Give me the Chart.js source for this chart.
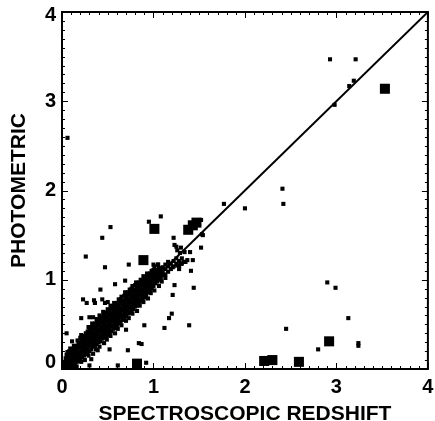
<!DOCTYPE html>
<html>
<head>
<meta charset="utf-8">
<script src="https://cdn.jsdelivr.net/npm/chart.js@4.4.0/dist/chart.umd.min.js"></script>
<style>
  body { margin: 0; background: #fff; }
  canvas { display: block; }
</style>
</head>
<body>
<canvas id="myChart" width="435" height="421"></canvas>
<script>
var tickLabels = ['0', '1', '2', '3', '4'];
var xTitle = 'SPECTROSCOPIC REDSHIFT';
var yTitle = 'PHOTOMETRIC';

// dense core along the relation: spec-z of each column, phot-z values in that column
var coreX = [0.02, 0.04, 0.06, 0.08, 0.10, 0.12, 0.14, 0.16, 0.18, 0.20,
             0.22, 0.24, 0.26, 0.28, 0.30, 0.32, 0.34, 0.36, 0.38, 0.40,
             0.42, 0.44, 0.46, 0.48, 0.50, 0.52, 0.54, 0.56, 0.58, 0.60,
             0.62, 0.64, 0.66, 0.68, 0.70, 0.72, 0.74, 0.76, 0.78, 0.80,
             0.82, 0.84, 0.86, 0.88, 0.90, 0.92, 0.94, 0.96, 0.98, 1.00,
             1.02, 1.04, 1.06, 1.08, 1.10, 1.13, 1.16, 1.19, 1.22, 1.25,
             1.28, 1.31, 1.35];
var coreY = [
  [0.00, 0.03, 0.07], [0.01, 0.05, 0.08, 0.12], [0.02, 0.06, 0.09, 0.14],
  [0.03, 0.06, 0.11, 0.16, 0.20], [0.02, 0.07, 0.10, 0.15, 0.18], [0.05, 0.09, 0.12, 0.17, 0.22],
  [0.04, 0.10, 0.15, 0.19, 0.23], [0.08, 0.12, 0.17, 0.21, 0.26], [0.09, 0.14, 0.18, 0.24, 0.28],
  [0.12, 0.16, 0.21, 0.25, 0.30, 0.35], [0.13, 0.19, 0.23, 0.27, 0.32], [0.15, 0.20, 0.24, 0.29, 0.34, 0.37],
  [0.17, 0.22, 0.27, 0.31, 0.36], [0.19, 0.23, 0.28, 0.33, 0.38, 0.42], [0.20, 0.26, 0.30, 0.35, 0.40, 0.44],
  [0.22, 0.27, 0.32, 0.37, 0.41, 0.47], [0.25, 0.29, 0.34, 0.39, 0.44, 0.49], [0.26, 0.31, 0.36, 0.40, 0.45, 0.51],
  [0.28, 0.33, 0.38, 0.43, 0.48, 0.53], [0.30, 0.34, 0.39, 0.44, 0.50, 0.55], [0.31, 0.36, 0.42, 0.47, 0.52, 0.57],
  [0.34, 0.38, 0.43, 0.48, 0.53, 0.59], [0.35, 0.41, 0.46, 0.50, 0.56, 0.61], [0.37, 0.42, 0.47, 0.53, 0.58, 0.63],
  [0.38, 0.44, 0.49, 0.54, 0.59, 0.64], [0.41, 0.45, 0.50, 0.56, 0.61, 0.66], [0.42, 0.48, 0.53, 0.58, 0.62, 0.68],
  [0.45, 0.49, 0.55, 0.60, 0.65, 0.70], [0.46, 0.52, 0.57, 0.61, 0.66, 0.72], [0.49, 0.53, 0.58, 0.64, 0.69, 0.74],
  [0.51, 0.56, 0.61, 0.66, 0.71], [0.53, 0.59, 0.63, 0.68, 0.74, 0.78], [0.55, 0.60, 0.66, 0.71, 0.76],
  [0.58, 0.62, 0.67, 0.72, 0.77, 0.82], [0.59, 0.65, 0.70, 0.74, 0.79], [0.62, 0.66, 0.71, 0.77, 0.82, 0.86],
  [0.63, 0.69, 0.74, 0.78, 0.84], [0.66, 0.70, 0.75, 0.81, 0.86, 0.90], [0.67, 0.73, 0.78, 0.82, 0.88],
  [0.70, 0.74, 0.80, 0.85, 0.89, 0.94], [0.71, 0.77, 0.81, 0.86, 0.92], [0.74, 0.78, 0.84, 0.88, 0.93, 0.97],
  [0.76, 0.82, 0.86, 0.91, 0.96], [0.79, 0.83, 0.88, 0.94, 0.98], [0.80, 0.86, 0.91, 0.95, 1.00],
  [0.83, 0.87, 0.93, 0.97, 1.03], [0.86, 0.90, 0.94, 1.00, 1.04], [0.88, 0.93, 0.97, 1.01, 1.07],
  [0.90, 0.95, 1.00, 1.04, 1.08], [0.93, 0.98, 1.02, 1.06, 1.11], [0.96, 1.00, 1.04, 1.09],
  [0.98, 1.03, 1.07, 1.11], [1.00, 1.04, 1.09, 1.13], [1.02, 1.07, 1.12],
  [1.05, 1.09, 1.14], [1.06, 1.12, 1.17], [1.09, 1.15, 1.20],
  [1.12, 1.18], [1.15, 1.21], [1.18, 1.24],
  [1.16, 1.21], [1.18, 1.24], [1.20]
];

// ragged edges of the core
var edgeSpecZ = [0.12, 0.16, 0.21, 0.25, 0.29, 0.34, 0.37, 0.41, 0.46, 0.49,
                 0.53, 0.58, 0.61, 0.65, 0.70, 0.73, 0.77, 0.82, 0.85, 0.89,
                 0.94, 0.97, 1.01, 1.06, 1.09, 1.13,
                 0.05, 0.09, 0.13, 0.17, 0.21, 0.26, 0.29, 0.33, 0.38, 0.41,
                 0.45, 0.50, 0.53, 0.57, 0.62, 0.65, 0.69, 0.74, 0.77, 0.81,
                 0.86, 0.89, 0.93, 0.98, 1.01, 1.05];
var edgePhotZ = [0.00, 0.03, 0.08, 0.10, 0.15, 0.17, 0.22, 0.25, 0.29, 0.33,
                 0.37, 0.40, 0.45, 0.49, 0.54, 0.57, 0.62, 0.65, 0.71, 0.75,
                 0.79, 0.85, 0.88, 0.93, 0.98, 1.02,
                 0.16, 0.23, 0.26, 0.32, 0.38, 0.40, 0.47, 0.51, 0.56, 0.60,
                 0.64, 0.67, 0.71, 0.74, 0.78, 0.81, 0.86, 0.89, 0.93, 0.97,
                 1.00, 1.04, 1.07, 1.10, 1.15, 1.17];

// scattered galaxies (small symbols)
var specZ = [0.06, 2.93, 3.21, 3.14, 3.19, 2.98, 2.41, 2.42, 1.77, 2.00,
             1.52, 1.53, 1.52, 2.90, 2.99, 3.13, 2.45, 2.80, 3.24, 3.24,
             1.08, 0.95, 0.53, 0.44, 1.22, 1.54, 1.23, 1.25, 1.29, 1.34,
             1.40, 1.43, 1.41, 1.44, 0.26, 0.47, 1.00, 1.05, 0.73, 1.12,
             0.69, 0.58, 0.42, 1.23, 1.21, 0.23, 0.27, 0.35, 0.44, 0.47,
             0.50, 0.36, 1.20, 1.17, 1.12, 1.39, 0.90, 0.70, 0.21, 0.30,
             0.34, 0.05, 0.11, 0.39, 0.52, 0.72, 0.84, 0.87, 0.92, 0.30,
             0.61, 0.32, 0.06, 1.21, 1.26, 1.30, 1.33, 1.37, 1.28, 1.26,
             1.30];
var photZ = [2.59, 3.47, 3.47, 3.17, 3.23, 2.96, 2.02, 1.85, 1.85, 1.80,
             1.67, 1.51, 1.36, 0.97, 0.91, 0.57, 0.45, 0.22, 0.29, 0.26,
             1.71, 1.65, 1.59, 1.47, 1.47, 1.50, 1.39, 1.37, 1.30, 1.31,
             1.31, 1.22, 1.10, 0.91, 1.26, 1.14, 1.17, 1.17, 1.17, 1.12,
             0.99, 0.95, 0.89, 0.94, 0.83, 0.78, 0.74, 0.77, 0.78, 0.74,
             0.75, 0.74, 0.62, 0.57, 0.46, 0.49, 0.49, 0.44, 0.57, 0.58,
             0.58, 0.40, 0.31, 0.21, 0.22, 0.21, 0.29, 0.28, 0.07, 0.04,
             0.04, 0.11, 0.19, 1.14, 1.16, 1.18, 1.20, 1.22, 1.12, 1.33,
             1.36];

// big symbols
var bigSpecZ = [3.53, 2.92, 2.21, 2.30, 2.59, 0.82, 1.01, 1.38, 1.43, 1.47, 0.89];
var bigPhotZ = [3.14, 0.31, 0.09, 0.10, 0.08, 0.06, 1.57, 1.56, 1.61, 1.64, 1.22];

function toPoints(xs, ys) {
  var out = [];
  for (var i = 0; i < xs.length; i++) out.push({ x: xs[i], y: ys[i] });
  return out;
}

var corePoints = toPoints(edgeSpecZ, edgePhotZ);
for (var c = 0; c < coreX.length; c++) {
  for (var k = 0; k < coreY[c].length; k++) corePoints.push({ x: coreX[c], y: coreY[c][k] });
}

var FONT = '"Liberation Sans", Arial, Helvetica, sans-serif';

// IDL-style box: frame, inward ticks on all four sides, labels and titles
var idlFrame = {
  id: 'idlFrame',
  afterDatasetsDraw: function (chart) {
    var ctx = chart.ctx, a = chart.chartArea;
    var xs = chart.scales.x, ys = chart.scales.y;
    ctx.save();
    ctx.strokeStyle = '#000';
    ctx.fillStyle = '#000';
    ctx.lineWidth = 2;
    ctx.strokeRect(a.left, a.top, a.right - a.left, a.bottom - a.top);

    ctx.lineWidth = 1;
    ctx.beginPath();
    for (var i = 0; i <= 40; i++) {
      var v = i / 10;
      var len = i % 10 === 0 ? 6 : 3;
      var px = Math.round(xs.getPixelForValue(v)) + 0.5;
      var py = Math.round(ys.getPixelForValue(v)) + 0.5;
      ctx.moveTo(px, a.bottom); ctx.lineTo(px, a.bottom - len);
      ctx.moveTo(px, a.top); ctx.lineTo(px, a.top + len);
      ctx.moveTo(a.left, py); ctx.lineTo(a.left + len, py);
      ctx.moveTo(a.right, py); ctx.lineTo(a.right - len, py);
    }
    ctx.stroke();

    ctx.font = 'bold 20px ' + FONT;
    ctx.textBaseline = 'middle';
    ctx.textAlign = 'center';
    tickLabels.forEach(function (t, i) {
      ctx.fillText(t, xs.getPixelForValue(i), a.bottom + 18);
    });
    ctx.textAlign = 'right';
    tickLabels.forEach(function (t, i) {
      var y = Math.min(Math.max(ys.getPixelForValue(i), a.top + 3.5), a.bottom - 6.5);
      ctx.fillText(t, a.left - 6, y);
    });

    ctx.font = 'bold 21px ' + FONT;
    ctx.textAlign = 'center';
    ctx.textBaseline = 'alphabetic';
    ctx.fillText(xTitle, (a.left + a.right) / 2, 420);
    ctx.translate(25, (a.top + a.bottom) / 2);
    ctx.rotate(-Math.PI / 2);
    ctx.fillText(yTitle, 0, 0);
    ctx.restore();
  }
};

var ctx = document.getElementById('myChart').getContext('2d');
var chart = new Chart(ctx, {
  type: 'scatter',
  data: {
    datasets: [
      {
        data: corePoints,
        pointStyle: 'rect',
        pointRadius: 2.9,
        backgroundColor: '#000',
        borderWidth: 0
      },
      {
        data: toPoints(specZ, photZ),
        pointStyle: 'rect',
        pointRadius: 2.9,
        backgroundColor: '#000',
        borderWidth: 0
      },
      {
        data: toPoints(bigSpecZ, bigPhotZ),
        pointStyle: 'rect',
        pointRadius: 7.1,
        backgroundColor: '#000',
        borderWidth: 0
      },
      {
        type: 'line',
        data: [{ x: 0, y: 0 }, { x: 4, y: 4 }],
        borderColor: '#000',
        borderWidth: 2,
        pointRadius: 0
      }
    ]
  },
  options: {
    responsive: false,
    animation: false,
    devicePixelRatio: 1,
    layout: { padding: { left: 62, right: 6, top: 12, bottom: 52 } },
    plugins: { legend: { display: false }, tooltip: { enabled: false } },
    scales: {
      x: {
        type: 'linear', min: 0, max: 4,
        ticks: { display: false, stepSize: 1 },
        grid: { display: false, drawTicks: false },
        border: { display: false },
        afterFit: function (s) { s.height = 0; }
      },
      y: {
        type: 'linear', min: 0, max: 4,
        ticks: { display: false, stepSize: 1 },
        grid: { display: false, drawTicks: false },
        border: { display: false },
        afterFit: function (s) { s.width = 0; }
      }
    }
  },
  plugins: [idlFrame]
});
</script>
</body>
</html>
